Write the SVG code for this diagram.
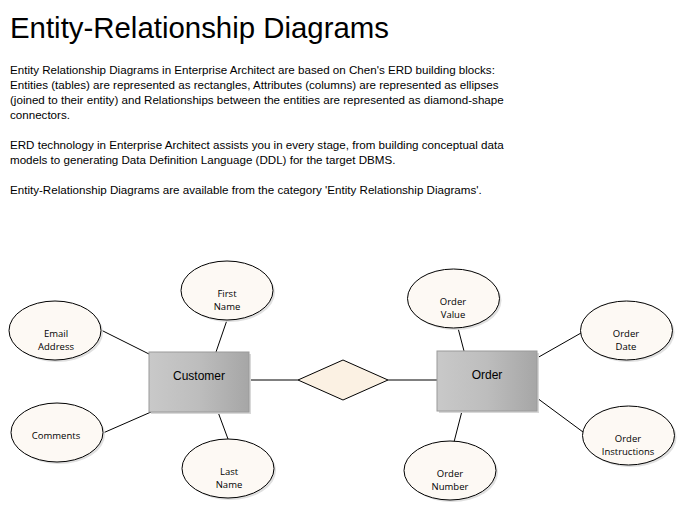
<svg xmlns="http://www.w3.org/2000/svg" width="679" height="505" viewBox="0 0 679 505">
<style>
.title{font-family:"Liberation Sans",Arial,sans-serif;font-size:29.4px;fill:#000}
.body{font-family:"Liberation Sans",Arial,sans-serif;font-size:11.6px;fill:#000}
.ent text{font-family:"Liberation Sans",Arial,sans-serif;font-size:12px;fill:#000;text-anchor:middle}
.att ellipse.e{fill:#fdf9f4;stroke:#000;stroke-width:1}
.att ellipse.s{fill:#e0e0e0}
.att text{font-family:"Open Sans","Noto Sans",sans-serif;font-size:9.5px;fill:#000;text-anchor:middle}
#connectors line{stroke:#000;stroke-width:1}
</style>
<defs>
<linearGradient id="g" x1="0" y1="0" x2="1" y2="0">
<stop offset="0" stop-color="#c9c9c9"/>
<stop offset="0.5" stop-color="#bdbdbd"/>
<stop offset="1" stop-color="#a6a6a6"/>
</linearGradient>
</defs>
<rect width="679" height="505" fill="#fff"/>
<text class="title" x="10" y="38">Entity-Relationship Diagrams</text>
<g class="body">
<text class="body" x="10" y="74">Entity Relationship Diagrams in Enterprise Architect are based on Chen's ERD building blocks:</text>
<text class="body" x="10" y="89">Entities (tables) are represented as rectangles, Attributes (columns) are represented as ellipses</text>
<text class="body" x="10" y="104">(joined to their entity) and Relationships between the entities are represented as diamond-shape</text>
<text class="body" x="10" y="119">connectors.</text>
<text class="body" x="10" y="149">ERD technology in Enterprise Architect assists you in every stage, from building conceptual data</text>
<text class="body" x="10" y="164">models to generating Data Definition Language (DDL) for the target DBMS.</text>
<text class="body" x="10" y="194">Entity-Relationship Diagrams are available from the category 'Entity Relationship Diagrams'.</text>
</g>
<g id="connectors">
<line x1="101" y1="330" x2="149" y2="354"/>
<line x1="227" y1="320" x2="216" y2="352"/>
<line x1="103" y1="433" x2="151" y2="412"/>
<line x1="218" y1="412" x2="228" y2="439"/>
<line x1="249" y1="380" x2="298" y2="380"/>
<line x1="388" y1="380" x2="437" y2="380"/>
<line x1="458" y1="328" x2="464" y2="351"/>
<line x1="581" y1="333" x2="537" y2="358"/>
<line x1="537" y1="398" x2="583" y2="432"/>
<line x1="462" y1="411" x2="454" y2="442"/>
</g>
<g id="customer" class="ent">
<rect x="151" y="354" width="100" height="60" fill="#d8d8d8"/>
<rect x="149" y="352" width="100" height="60" fill="url(#g)" stroke="#9a9a9a" stroke-width="1"/>
<text x="199" y="380">Customer</text>
</g>
<g id="order" class="ent">
<rect x="439" y="353" width="100" height="60" fill="#d8d8d8"/>
<rect x="437" y="351" width="100" height="60" fill="url(#g)" stroke="#9a9a9a" stroke-width="1"/>
<text x="487" y="379">Order</text>
</g>
<g id="relationship">
<polygon points="298,380 343,360 388,380 343,400" fill="#fbf1e3" stroke="#000" stroke-width="1"/>
</g>
<g id="first-name" class="att">
<ellipse class="s" cx="229" cy="292.5" rx="46" ry="29.5"/>
<ellipse class="e" cx="227" cy="290.5" rx="46" ry="29.5"/>
<text x="227" y="297">First</text><text x="227" y="310">Name</text>
</g>
<g id="email-address" class="att">
<ellipse class="s" cx="57" cy="332.5" rx="46" ry="29.5"/>
<ellipse class="e" cx="55" cy="330.5" rx="46" ry="29.5"/>
<text x="56" y="337">Email</text><text x="56" y="350">Address</text>
</g>
<g id="comments" class="att">
<ellipse class="s" cx="59" cy="434.5" rx="46" ry="29.5"/>
<ellipse class="e" cx="57" cy="432.5" rx="46" ry="29.5"/>
<text x="56" y="439">Comments</text>
</g>
<g id="last-name" class="att">
<ellipse class="s" cx="230" cy="470.5" rx="46" ry="29.5"/>
<ellipse class="e" cx="228" cy="468.5" rx="46" ry="29.5"/>
<text x="229" y="475">Last</text><text x="229" y="488">Name</text>
</g>
<g id="order-value" class="att">
<ellipse class="s" cx="455.5" cy="300.5" rx="46" ry="29.5"/>
<ellipse class="e" cx="453.5" cy="298.5" rx="46" ry="29.5"/>
<text x="453" y="305">Order</text><text x="453" y="318">Value</text>
</g>
<g id="order-date" class="att">
<ellipse class="s" cx="628.5" cy="332.5" rx="46" ry="29.5"/>
<ellipse class="e" cx="626.5" cy="330.5" rx="46" ry="29.5"/>
<text x="626" y="337">Order</text><text x="626" y="350">Date</text>
</g>
<g id="order-instructions" class="att">
<ellipse class="s" cx="630.5" cy="437.5" rx="46" ry="29.5"/>
<ellipse class="e" cx="628.5" cy="435.5" rx="46" ry="29.5"/>
<text x="628" y="442">Order</text><text x="628" y="455">Instructions</text>
</g>
<g id="order-number" class="att">
<ellipse class="s" cx="452" cy="472.5" rx="46" ry="29.5"/>
<ellipse class="e" cx="450" cy="470.5" rx="46" ry="29.5"/>
<text x="450" y="477">Order</text><text x="450" y="490">Number</text>
</g>
</svg>
